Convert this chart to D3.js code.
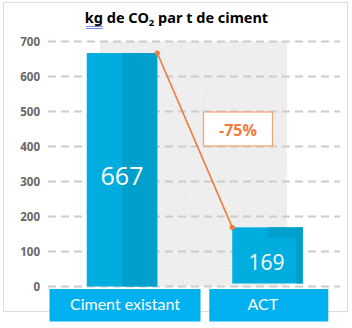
<!DOCTYPE html>
<html>
<head>
<meta charset="utf-8">
<script src="https://cdn.jsdelivr.net/npm/d3@7/dist/d3.min.js"></script>
<style>
  html, body { margin: 0; padding: 0; background: #fff; }
  svg { display: block; }
</style>
</head>
<body>
<svg id="chart" width="352" height="328"></svg>
<script>
// Emissions per tonne of cement
const categories = ["Ciment existant", "ACT"];
const values = [667, 169];
const reductionLabel = "-75%";
const yTicks = [0, 100, 200, 300, 400, 500, 600, 700];

const svg = d3.select("#chart");

// Frame
svg.append("rect")
  .attr("x", 3.5).attr("y", 2.5).attr("width", 344).attr("height", 309)
  .attr("fill", "#fff").attr("stroke", "#dcdcdc").attr("stroke-width", 1);

// Scales
const y = d3.scaleLinear().domain([0, 700]).range([286.5, 41.5]);
const x = d3.scalePoint().domain(categories).range([122, 267.5]);
const barW = 70.5;

// Concrete texture panel behind the bars
const defs = svg.append("defs");
const f = defs.append("filter").attr("id", "grain").attr("x", 0).attr("y", 0).attr("width", 1).attr("height", 1);
f.append("feTurbulence").attr("type", "fractalNoise").attr("baseFrequency", 0.7).attr("numOctaves", 3).attr("seed", 3).attr("result", "n");
f.append("feColorMatrix").attr("in", "n").attr("type", "matrix")
  .attr("values", "0 0 0 0 0.6  0 0 0 0 0.6  0 0 0 0 0.6  0 0 0 0.45 -0.12").attr("result", "g");
f.append("feComposite").attr("in", "g").attr("in2", "SourceGraphic").attr("operator", "in").attr("result", "gm");
f.append("feMerge").call(m => { m.append("feMergeNode").attr("in", "SourceGraphic"); m.append("feMergeNode").attr("in", "gm"); });

svg.append("rect")
  .attr("x", 100).attr("y", y(700)).attr("width", 187).attr("height", y(0) - y(700))
  .attr("fill", "#f2f2f2").attr("filter", "url(#grain)");

// Grid lines + axis labels
const yAxis = d3.axisLeft(y).tickValues(yTicks).tickSize(0).tickPadding(0).tickFormat(d3.format("d"));
const gAxis = svg.append("g").attr("transform", "translate(40,0)").call(yAxis);
gAxis.select(".domain").remove();
gAxis.selectAll("text")
  .attr("fill", "#666").attr("font-family", "'Noto Sans', sans-serif")
  .attr("font-weight", "bold").attr("font-size", 11.5).attr("dy", "0.34em");

svg.append("g").selectAll("line").data(yTicks).join("line")
  .attr("x1", 48).attr("x2", 340)
  .attr("y1", d => y(d)).attr("y2", d => y(d))
  .attr("stroke", "#cccccc").attr("stroke-width", 2).attr("stroke-dasharray", "8,5");

// Bars
const light = "#00addf", dark = "#009fcc";
const bars = svg.append("g");
// first bar: split face
bars.append("rect")
  .attr("x", x(categories[0]) - barW / 2).attr("y", y(values[0]))
  .attr("width", barW).attr("height", y(0) - y(values[0]))
  .attr("fill", light);
bars.append("rect")
  .attr("x", x(categories[0])).attr("y", y(values[0]))
  .attr("width", barW / 2).attr("height", y(0) - y(values[0]))
  .attr("fill", dark);
// second bar: corner block and edge strip
bars.append("rect")
  .attr("x", x(categories[1]) - barW / 2).attr("y", y(values[1]))
  .attr("width", barW).attr("height", y(0) - 3 - y(values[1]))
  .attr("fill", light);
bars.append("rect")
  .attr("x", x(categories[1])).attr("y", y(values[1]))
  .attr("width", barW / 2).attr("height", 10.5)
  .attr("fill", dark);
bars.append("rect")
  .attr("x", x(categories[1]) + barW / 2 - 6.5).attr("y", y(values[1]))
  .attr("width", 6.5).attr("height", y(0) - 3 - y(values[1]))
  .attr("fill", dark);

// Value labels
svg.append("text")
  .attr("x", x(categories[0])).attr("y", 185)
  .attr("text-anchor", "middle").attr("fill", "#fff")
  .attr("font-family", "'Open Sans', sans-serif").attr("font-size", 25)
  .text(values[0]);
svg.append("text")
  .attr("x", x(categories[1]) - 1).attr("y", 270)
  .attr("text-anchor", "middle").attr("fill", "#fff")
  .attr("font-family", "'Open Sans', sans-serif").attr("font-size", 21)
  .text(values[1]);

// Reduction connector
const orange = "#ef7b3c";
const p1 = [x(categories[0]) + barW / 2, y(values[0])];
const p2 = [x(categories[1]) - barW / 2, y(values[1])];
svg.append("line")
  .attr("x1", p1[0]).attr("y1", p1[1]).attr("x2", p2[0]).attr("y2", p2[1])
  .attr("stroke", orange).attr("stroke-width", 1.6);
svg.selectAll("circle.pt").data([p1, p2]).join("circle")
  .attr("cx", d => d[0]).attr("cy", d => d[1]).attr("r", 2.6).attr("fill", orange);

svg.append("rect")
  .attr("x", 203.5).attr("y", 112).attr("width", 69).attr("height", 34)
  .attr("fill", "#fff").attr("stroke", "#f3a57a").attr("stroke-width", 1.3);
svg.append("text")
  .attr("x", 238).attr("y", 135.5).attr("text-anchor", "middle")
  .attr("fill", orange).attr("font-family", "'Noto Sans', sans-serif")
  .attr("font-weight", "bold").attr("font-size", 16)
  .text(reductionLabel);

// Category label boxes
const boxes = [{ dx: 3, w: 151 }, { dx: 1.3, w: 119 }];
const cat = svg.append("g").selectAll("g").data(categories).join("g");
cat.append("rect")
  .attr("x", (d, i) => x(d) + boxes[i].dx - boxes[i].w / 2).attr("y", 289)
  .attr("width", (d, i) => boxes[i].w).attr("height", 32.5)
  .attr("fill", "#00b0ef");
cat.append("text")
  .attr("x", (d, i) => x(d) + boxes[i].dx - (i === 1 ? 6 : 0)).attr("y", 310)
  .attr("text-anchor", "middle").attr("fill", "#fff")
  .attr("font-family", "Lato, sans-serif").attr("font-size", 16)
  .text(d => d);

// Title
const title = svg.append("text")
  .attr("x", 176.5).attr("y", 23).attr("text-anchor", "middle")
  .attr("font-family", "'Noto Sans', sans-serif").attr("font-weight", "bold")
  .attr("font-size", 14.5).attr("fill", "#000");
title.append("tspan").attr("id", "kg").text("kg");
title.append("tspan").text(" de CO");
title.append("tspan").attr("font-size", 9.5).attr("dy", 3).text("2");
title.append("tspan").attr("dy", -3).text(" par t de ciment");

// double underline under "kg"
const kg = svg.select("#kg").node().getBBox();
[26.5, 28.5].forEach(yy => svg.append("line")
  .attr("x1", kg.x + 1).attr("x2", kg.x + kg.width)
  .attr("y1", yy).attr("y2", yy)
  .attr("stroke", "#3b5bd6").attr("stroke-width", 0.7));
</script>
</body>
</html>
